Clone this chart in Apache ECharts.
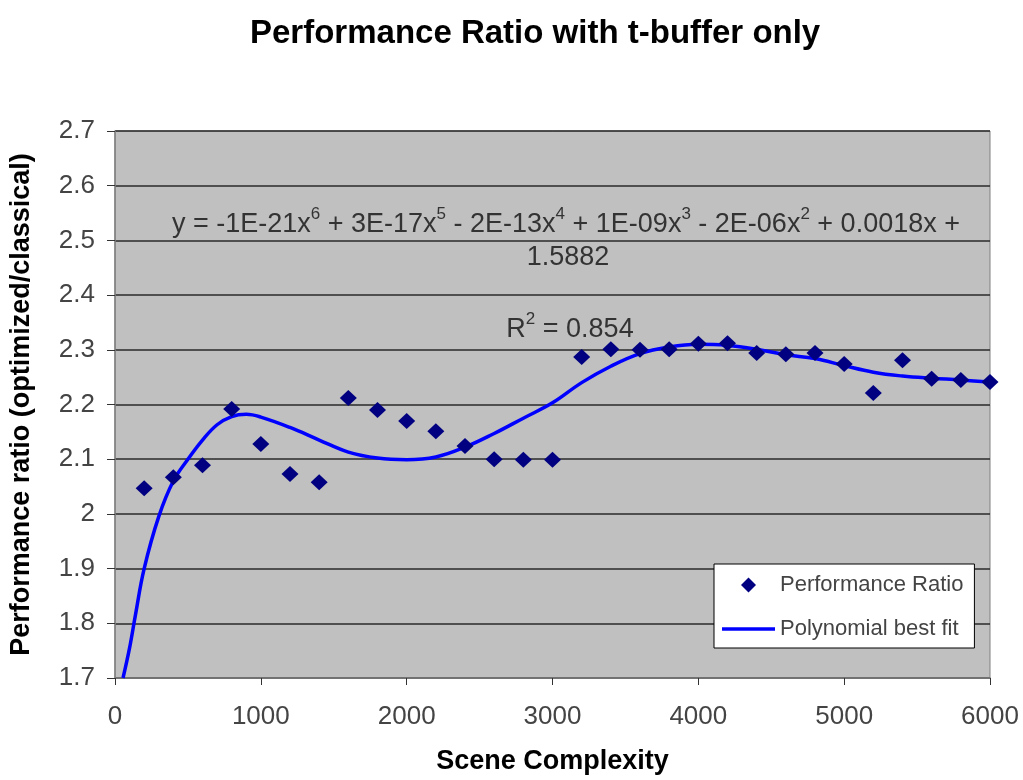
<!DOCTYPE html>
<html>
<head>
<meta charset="utf-8">
<script src="https://cdn.jsdelivr.net/npm/echarts@6/dist/echarts.min.js"></script>
<style>
  html, body { margin: 0; padding: 0; background: #fff; }
  #main { width: 1023px; height: 780px; }
</style>
</head>
<body>
<div id="main"></div>
<script>
// scene complexity of each measurement
const complexity = [200, 400, 600, 800, 1000, 1200, 1400, 1600, 1800, 2000,
  2200, 2400, 2600, 2800, 3000, 3200, 3400, 3600, 3800, 4000,
  4200, 4400, 4600, 4800, 5000, 5200, 5400, 5600, 5800, 6000]
// measured performance ratio
const ratio = [2.047, 2.067, 2.089, 2.192, 2.128, 2.073, 2.058, 2.212, 2.190, 2.170,
  2.151, 2.124, 2.100, 2.099, 2.099, 2.287, 2.301, 2.300, 2.301, 2.311,
  2.312, 2.294, 2.292, 2.294, 2.274, 2.221, 2.281, 2.247, 2.245, 2.241]

// polynomial trend line
const fitX = [55, 100, 140, 200, 300, 400, 500, 600, 700, 800, 900, 1000, 1200, 1400,
  1600, 1800, 2000, 2200, 2400, 2600, 2800, 3000, 3200, 3400, 3600, 3800, 4000,
  4200, 4400, 4600, 4800, 5000, 5200, 5400, 5600, 5800, 6000]
const fitY = [1.70, 1.755, 1.815, 1.90, 1.995, 2.06, 2.10, 2.135, 2.163, 2.178, 2.182, 2.177, 2.158, 2.135,
  2.113, 2.102, 2.099, 2.104, 2.122, 2.147, 2.175, 2.203, 2.240, 2.270, 2.293, 2.305, 2.310,
  2.308, 2.301, 2.291, 2.284, 2.271, 2.259, 2.252, 2.248, 2.245, 2.241]

const chart = echarts.init(document.getElementById('main'))
const font = 'Liberation Sans, Arial, sans-serif'

// rich text styles for the trendline label: normal text and raised exponents
const eqRich = {
  n: { fontSize: 27, fontFamily: font, fill: '#333', lineHeight: 32, verticalAlign: 'bottom' },
  s: { fontSize: 17, fontFamily: font, fill: '#333', lineHeight: 19, verticalAlign: 'top' }
}

chart.setOption({
  animation: false,
  title: {
    text: 'Performance Ratio with t-buffer only',
    left: 245,
    top: 12,
    textStyle: { fontFamily: font, fontSize: 33, fontWeight: 'bold', color: '#000' }
  },
  grid: {
    left: 113, right: 33, top: 131, bottom: 102,
    show: true,
    backgroundColor: '#c0c0c0',
    borderColor: '#808080',
    borderWidth: 1
  },
  legend: {
    orient: 'vertical',
    left: 714,
    top: 564,
    itemGap: 22,
    itemWidth: 53,
    itemHeight: 15,
    padding: [10, 11, 8, 8],
    backgroundColor: '#fff',
    borderColor: '#000',
    borderWidth: 1,
    symbolKeepAspect: true,
    textStyle: { fontFamily: font, fontSize: 22, color: '#444' },
    data: [
      { name: 'Performance Ratio', icon: 'path://M5,0 L10,5 L5,10 L0,5 Z' },
      { name: 'Polynomial best fit', icon: 'path://M0,0 L53,0 L53,3.5 L0,3.5 Z' }
    ]
  },
  xAxis: {
    type: 'value',
    min: 0, max: 6000, interval: 1000,
    name: 'Scene Complexity',
    nameLocation: 'middle',
    nameGap: 70,
    nameTextStyle: { fontFamily: font, fontSize: 27, fontWeight: 'bold', color: '#000' },
    axisLine: { show: true, lineStyle: { color: '#808080', width: 1.5 } },
    axisTick: { show: true, length: 7, lineStyle: { color: '#333' } },
    axisLabel: { fontFamily: font, fontSize: 26, color: '#444', margin: 26, formatter: v => String(v) },
    splitLine: { show: false }
  },
  yAxis: {
    type: 'value',
    min: 1.7, max: 2.7, interval: 0.1,
    name: 'Performance ratio (optimized/classical)',
    nameLocation: 'middle',
    nameGap: 80,
    nameTextStyle: { fontFamily: font, fontSize: 27, fontWeight: 'bold', color: '#000' },
    axisLine: { show: true, lineStyle: { color: '#808080', width: 1.5 } },
    axisTick: { show: true, length: 8, lineStyle: { color: '#333' } },
    axisLabel: {
      fontFamily: font, fontSize: 26, color: '#444', margin: 20,
      formatter: v => String(Math.round(v * 10) / 10)
    },
    splitLine: { show: true, lineStyle: { color: '#2a2a2a', width: 1.5 } }
  },
  graphic: [
    {
      type: 'text',
      x: 566,
      y: 222,
      style: {
        text: '{n|y = -1E-21x}{s|6}{n| + 3E-17x}{s|5}{n| - 2E-13x}{s|4}{n| + 1E-09x}{s|3}{n| - 2E-06x}{s|2}{n| + 0.0018x +}',
        align: 'center',
        verticalAlign: 'middle',
        rich: eqRich
      },
      z: 10
    },
    {
      type: 'text',
      x: 568,
      y: 258,
      style: { text: '1.5882', font: '27px ' + font, fill: '#333', align: 'center', verticalAlign: 'middle' },
      z: 10
    },
    {
      type: 'text',
      x: 570,
      y: 327,
      style: {
        text: '{n|R}{s|2}{n| = 0.854}',
        align: 'center',
        verticalAlign: 'middle',
        rich: eqRich
      },
      z: 10
    }
  ],
  series: [
    {
      name: 'Polynomial best fit',
      type: 'line',
      data: fitX.map((x, i) => [x, fitY[i]]),
      smooth: 0.4,
      showSymbol: false,
      symbol: 'none',
      lineStyle: { color: '#0000ff', width: 3.5 },
      itemStyle: { color: '#0000ff' },
      clip: true,
      z: 2
    },
    {
      name: 'Performance Ratio',
      type: 'scatter',
      data: complexity.map((x, i) => [x, ratio[i]]),
      symbol: 'diamond',
      symbolSize: [17, 16],
      itemStyle: { color: '#000080', opacity: 1 },
      z: 3
    }
  ]
})
</script>
</body>
</html>
